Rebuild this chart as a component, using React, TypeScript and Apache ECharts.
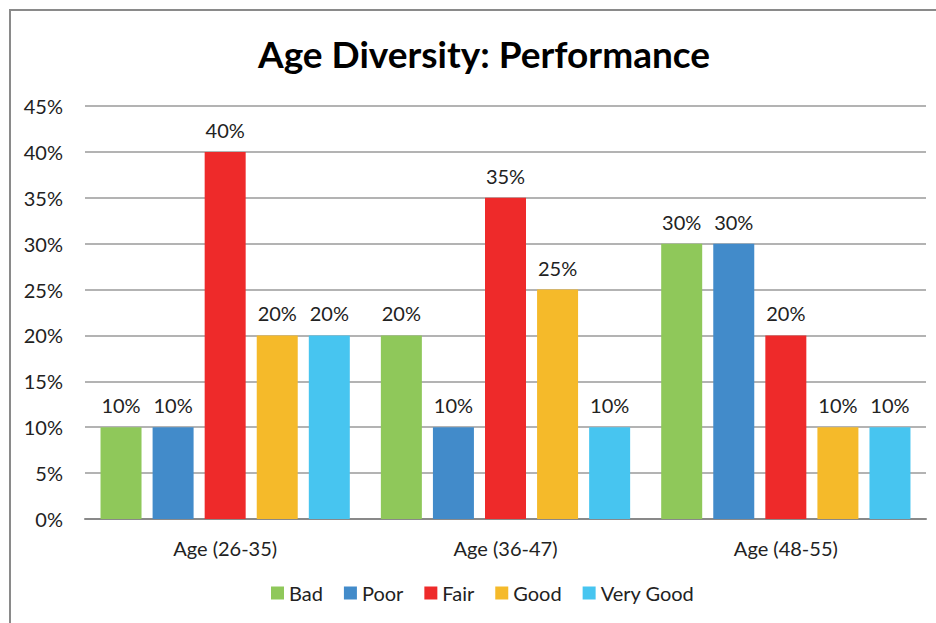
import React, { useEffect, useRef } from "react";
import * as echarts from "echarts";

const categories = ["Age (26-35)", "Age (36-47)", "Age (48-55)"];
const seriesNames = ["Bad", "Poor", "Fair", "Good", "Very Good"];
const bad = [0.1, 0.2, 0.3];
const poor = [0.1, 0.1, 0.3];
const fair = [0.4, 0.35, 0.2];
const good = [0.2, 0.25, 0.1];
const veryGood = [0.2, 0.1, 0.1];
const colors = ["#8FC85A", "#428BCA", "#EE2A2A", "#F5BA2A", "#47C5F0"];

const FONT = "Lato, 'Open Sans', sans-serif";

export default function App() {
  const ref = useRef<HTMLDivElement>(null);
  useEffect(() => {
    if (!ref.current) return;
    const chart = echarts.init(ref.current, null, { renderer: "svg" });
    const all = [bad, poor, fair, good, veryGood];
    chart.setOption({
      animation: false,
      textStyle: { fontFamily: FONT },
      title: {
        text: "Age Diversity: Performance",
        left: 479,
        textAlign: "center",
        top: 30,
        textStyle: { fontSize: 37, fontWeight: "bold", color: "#000", fontFamily: FONT },
      },
      graphic: [
        {
          type: "rect",
          shape: { x: 10, y: 10, width: 940, height: 630 },
          style: { fill: "none", stroke: "#8a8a8a", lineWidth: 2 },
          silent: true,
          z: -1,
        },
      ],
      legend: {
        top: 578,
        left: 266,
        itemWidth: 13,
        itemHeight: 13,
        itemGap: 21,
        icon: "rect",
        textStyle: { fontSize: 20, color: "#222", fontFamily: FONT },
        data: seriesNames,
      },
      grid: { left: 85, right: 10, top: 106, bottom: 104, containLabel: false },
      xAxis: {
        type: "category",
        data: categories,
        axisLine: { lineStyle: { color: "#898989", width: 2 } },
        axisTick: { show: false },
        axisLabel: { fontSize: 20, color: "#222", margin: 19, fontFamily: FONT },
      },
      yAxis: {
        type: "value",
        min: 0,
        max: 0.45,
        interval: 0.05,
        axisLine: { show: false },
        axisTick: { show: false },
        splitLine: { lineStyle: { color: "#9a9a9a", width: 1.5 } },
        axisLabel: {
          fontSize: 20,
          color: "#222",
          margin: 22,
          fontFamily: FONT,
          formatter: (v: number) => Math.round(v * 100) + "%",
        },
      },
      series: seriesNames.map((name, i) => ({
        name,
        type: "bar",
        data: all[i],
        barWidth: 41,
        barGap: "27%",
        itemStyle: { color: colors[i] },
        label: {
          show: true,
          position: "top",
          distance: 12,
          fontSize: 20,
          color: "#222",
          fontFamily: FONT,
          formatter: (p: any) => Math.round(p.value * 100) + "%",
        },
      })),
    });
    return () => chart.dispose();
  }, []);
  return (
    <div
      ref={ref}
      style={{ position: "absolute", left: 0, top: 0, width: 936, height: 623 }}
    />
  );
}
